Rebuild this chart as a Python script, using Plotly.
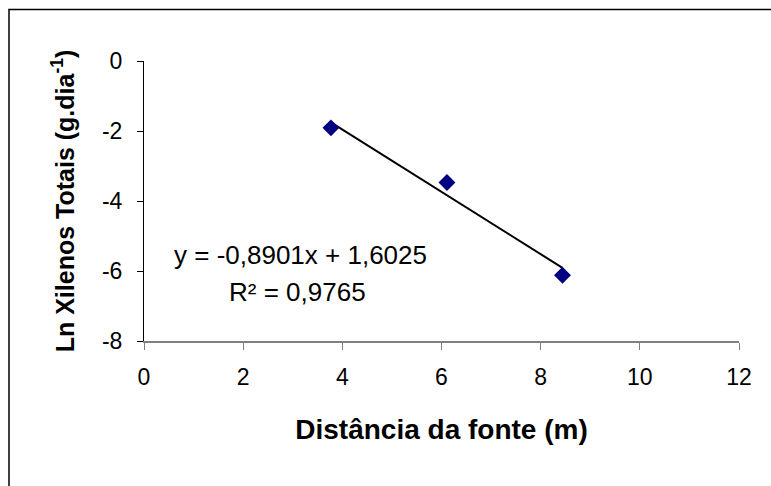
import plotly.graph_objects as go

# data
dist = [3.77, 6.11, 8.44]
ln_xil = [-1.91, -3.47, -6.12]
slope = -0.8901
intercept = 1.6025
r2 = 0.9765
x_ticks = [0, 2, 4, 6, 8, 10, 12]
y_ticks = [0, -2, -4, -6, -8]

trend_x = [min(dist), max(dist)]
trend_y = [slope * v + intercept for v in trend_x]

fig = go.Figure()
fig.add_trace(go.Scatter(x=trend_x, y=trend_y, mode="lines",
                         line=dict(color="black", width=2), showlegend=False,
                         hoverinfo="skip"))
fig.add_trace(go.Scatter(x=dist, y=ln_xil, mode="markers",
                         marker=dict(symbol="diamond", size=13, color="#000080"),
                         showlegend=False))

font = "Liberation Sans, Arial, sans-serif"
fig.update_layout(
    width=771, height=486,
    margin=dict(l=144, r=32, t=61, b=145),
    paper_bgcolor="white", plot_bgcolor="white",
    font=dict(family=font, color="black"),
    xaxis=dict(range=[0, 12], tickvals=x_ticks, ticktext=[str(v) for v in x_ticks],
               showgrid=False, zeroline=False, showline=True, linecolor="#808080",
               linewidth=1.5, ticks="outside", ticklen=7, tickcolor="#808080",
               tickwidth=1, tickfont=dict(size=23, family=font),
               ticklabelstandoff=8,
               title=dict(text="Distância da fonte (m)", standoff=30,
                          font=dict(size=28, family=font, weight="bold"))),
    yaxis=dict(range=[-8, 0], tickvals=y_ticks, ticktext=[str(v) for v in y_ticks],
               showgrid=False, zeroline=False, showline=True, linecolor="black",
               linewidth=1, ticks="outside", ticklen=6, tickcolor="black",
               tickfont=dict(size=23, family=font), ticklabelstandoff=10,
               title=dict(text="Ln Xilenos Totais (g.dia<sup>-1</sup>)", standoff=20,
                          font=dict(size=25, family=font, weight="bold"))),
    shapes=[dict(type="rect", xref="paper", yref="paper",
                 x0=-0.2269, x1=1.2, y0=-0.7, y1=1.1839,
                 line=dict(color="black", width=1.5), fillcolor="rgba(0,0,0,0)",
                 layer="below")],
    annotations=[dict(x=3.15, y=-5.55, xref="x", yref="y", showarrow=False,
                      text=f"y = {slope:.4f}x + {intercept:.4f}".replace(".", ","),
                      font=dict(size=26, family=font), xanchor="center"),
                 dict(x=3.1, y=-6.6, xref="x", yref="y", showarrow=False,
                      text=f"R² = {r2:.4f}".replace(".", ","),
                      font=dict(size=26, family=font), xanchor="center")],
)

fig.write_html("out.html")
